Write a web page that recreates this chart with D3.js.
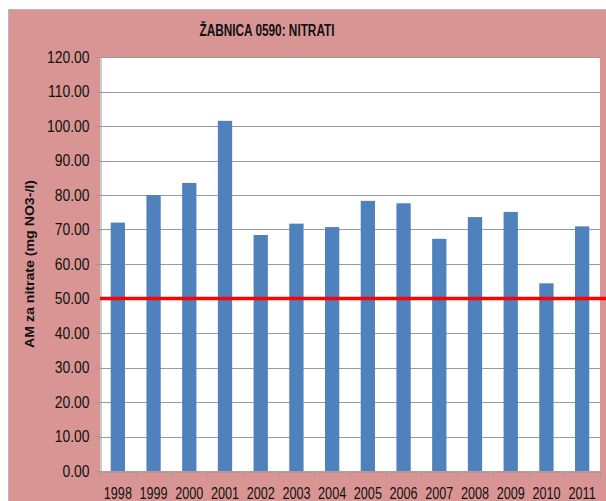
<!DOCTYPE html>
<html><head><meta charset="utf-8">
<script src="https://cdn.jsdelivr.net/npm/d3@7"></script>
<style>
html,body{margin:0;padding:0;background:#fff;}
svg{display:block;}
text{font-family:"Liberation Sans",Arial,sans-serif;}
</style></head>
<body>
<svg id="c" width="606" height="501"></svg>
<script>
const years = ["1998","1999","2000","2001","2002","2003","2004","2005","2006","2007","2008","2009","2010","2011"];
const nitrate = [72.0, 80.0, 83.5, 101.5, 68.4, 71.7, 70.7, 78.3, 77.6, 67.3, 73.6, 75.1, 54.4, 70.9];
const limitValue = [50];
const yTicks = [0,10,20,30,40,50,60,70,80,90,100,110,120];
const titleText = "ŽABNICA 0590: NITRATI";
const yTitle = "AM za nitrate (mg NO3-/l)";

const svg = d3.select("#c");
const W = 606, H = 501;
const m = {left:100, right:6, top:57, bottom:30};
const pw = 600 - m.left, ph = 471 - m.top;

function squeeze(sel, f){
  sel.each(function(){
    const L = this.getComputedTextLength();
    this.setAttribute("textLength", (L*f).toFixed(1));
    this.setAttribute("lengthAdjust","spacingAndGlyphs");
  });
}

// pink background panel
svg.append("rect").attr("x",8.5).attr("y",9.5).attr("width",W).attr("height",H)
  .attr("fill","#d99594").attr("stroke","#b8b8b8").attr("stroke-width",1);

const x = d3.scaleBand().domain(years).range([m.left, m.left+pw]).paddingInner(0.6).paddingOuter(0.3);
const y = d3.scaleLinear().domain([0,120]).range([m.top+ph, m.top]);

// plot area
svg.append("rect").attr("x",m.left).attr("y",m.top).attr("width",pw).attr("height",ph).attr("fill","#fff");

// gridlines
svg.append("g").selectAll("line").data(yTicks.filter(d=>d>0)).join("line")
  .attr("x1",m.left).attr("x2",m.left+pw)
  .attr("y1",d=>Math.round(y(d))+0.5).attr("y2",d=>Math.round(y(d))+0.5)
  .attr("stroke","#9a9a9a").attr("stroke-width",1);

// bars
svg.append("g").selectAll("rect").data(years).join("rect")
  .attr("x",(d)=>x(d)).attr("width",x.bandwidth())
  .attr("y",(d,i)=>y(nitrate[i])).attr("height",(d,i)=>y(0)-y(nitrate[i]))
  .attr("fill","#4f81bd");

// y axis
const yAxis = d3.axisLeft(y).tickValues(yTicks).tickFormat(d3.format(".2f")).tickSize(5).tickPadding(6);
const gy = svg.append("g").attr("transform",`translate(${m.left+0.5},0)`).call(yAxis);
gy.attr("font-family",null).attr("font-size",null);
gy.select(".domain").attr("stroke","#9a9a9a");
gy.selectAll(".tick line").attr("stroke","#9a9a9a");
gy.selectAll(".tick text").attr("font-size","16px").attr("fill","#111");
squeeze(gy.selectAll(".tick text"), 0.87);

// x axis with ticks at category boundaries
const xAxis = d3.axisBottom(x).tickSize(0).tickPadding(15);
const gx = svg.append("g").attr("transform",`translate(0,${m.top+ph+0.5})`).call(xAxis);
gx.attr("font-family",null).attr("font-size",null);
gx.select(".domain").attr("stroke","#9a9a9a");
gx.selectAll(".tick text").attr("font-size","16px").attr("fill","#111").attr("dy","0.78em");
squeeze(gx.selectAll(".tick text"), 0.79);
const bounds = d3.range(years.length+1).map(i => m.left + i*pw/years.length);
gx.append("g").selectAll("line").data(bounds).join("line")
  .attr("x1",d=>Math.round(d)+0.5).attr("x2",d=>Math.round(d)+0.5)
  .attr("y1",0).attr("y2",5).attr("stroke","#9a9a9a");

// limit line
svg.append("line").attr("x1",m.left).attr("x2",W)
  .attr("y1",y(limitValue[0])).attr("y2",y(limitValue[0]))
  .attr("stroke","#ff0000").attr("stroke-width",3.5);

// title
svg.append("text").attr("x",267).attr("y",36).attr("text-anchor","middle")
  .attr("font-weight","bold").attr("font-size","16px").attr("fill","#111")
  .attr("textLength",135).attr("lengthAdjust","spacingAndGlyphs")
  .text(titleText);

// y axis title
svg.append("text").attr("transform","translate(34,264) rotate(-90)").attr("text-anchor","middle")
  .attr("font-weight","bold").attr("font-size","12px").attr("fill","#111")
  .attr("textLength",168).attr("lengthAdjust","spacingAndGlyphs")
  .text(yTitle);
</script>
</body></html>
